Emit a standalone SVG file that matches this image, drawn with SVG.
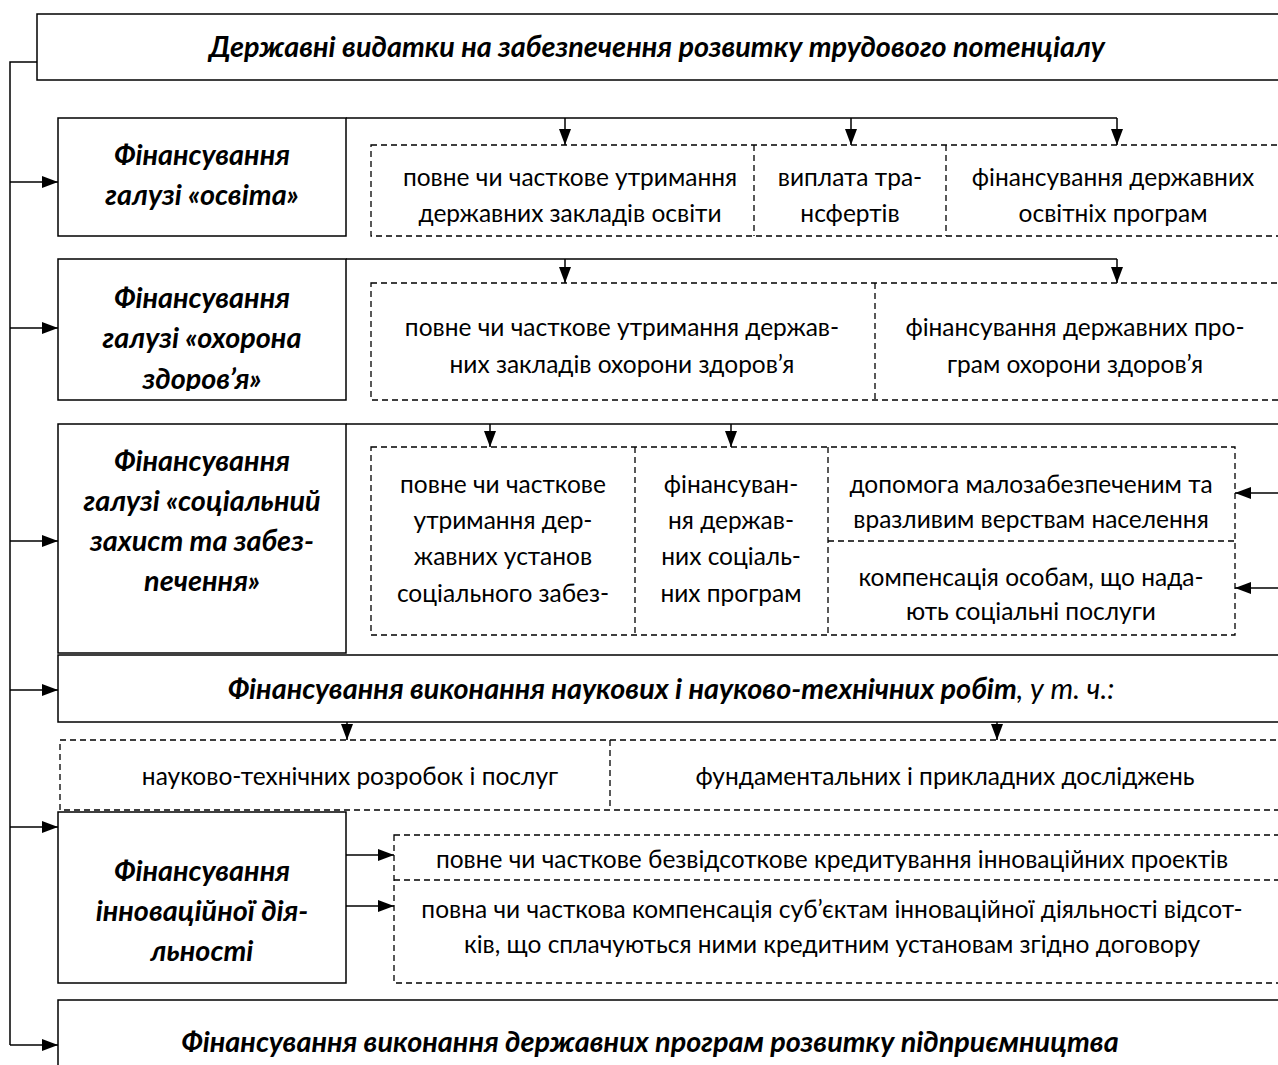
<svg xmlns="http://www.w3.org/2000/svg" width="1278" height="1065" viewBox="0 0 1278 1065">
<style>
.box{fill:#fff;stroke:#000;stroke-width:1.5}
.dbox{fill:#fff;stroke:#000;stroke-width:1.3;stroke-dasharray:6 4}
.dl{fill:none;stroke:#000;stroke-width:1.3;stroke-dasharray:6 4}
.c{fill:none;stroke:#000;stroke-width:1.5}
.h{font-family:"Lato","Open Sans",sans-serif;font-size:28.8px;font-weight:bold;font-style:italic;text-anchor:middle;fill:#000}
.t{font-family:"Lato","Open Sans",sans-serif;font-size:24.5px;text-anchor:middle;fill:#000}
</style>
<defs>
<marker id="ar" markerWidth="16" markerHeight="12" refX="16" refY="6" orient="auto" markerUnits="userSpaceOnUse">
<path d="M0,0 L16,6 L0,12 z" fill="#000"/>
</marker>
<clipPath id="clip2"><rect x="58" y="259" width="288" height="132"/></clipPath>
<clipPath id="clip3"><rect x="828" y="447" width="407" height="85"/></clipPath>
<clipPath id="clip4"><rect x="828" y="541" width="407" height="84"/></clipPath>
</defs>
<rect width="1278" height="1065" fill="#fff"/>

<g id="title">
<rect class="box" x="37" y="14" width="1260" height="66"/>
<text class="h" x="657" y="57">Державні видатки на забезпечення розвитку трудового потенціалу</text>
</g>

<g id="n-osvita">
<rect class="box" x="58" y="118" width="288" height="118"/>
<text class="h" x="202" y="165">Фінансування</text>
<text class="h" x="202" y="205">галузі «освіта»</text>
</g>
<g id="n-osvita-items">
<rect class="dbox" x="371" y="145" width="950" height="91"/>
<line class="dl" x1="754" y1="145" x2="754" y2="236"/>
<line class="dl" x1="946" y1="145" x2="946" y2="236"/>
<text class="t" x="570" y="186">повне чи часткове утримання</text>
<text class="t" x="570" y="222">державних закладів освіти</text>
<text class="t" x="850" y="186">виплата тра-</text>
<text class="t" x="850" y="222">нсфертів</text>
<text class="t" x="1113" y="186">фінансування державних</text>
<text class="t" x="1113" y="222">освітніх програм</text>
</g>

<g id="n-ohorona">
<rect class="box" x="58" y="259" width="288" height="141"/>
<text class="h" x="202" y="308">Фінансування</text>
<text class="h" x="202" y="348">галузі «охорона</text>
<text class="h" x="202" y="389" clip-path="url(#clip2)">здоров’я»</text>
</g>
<g id="n-ohorona-items">
<rect class="dbox" x="371" y="283" width="950" height="117"/>
<line class="dl" x1="875" y1="283" x2="875" y2="400"/>
<text class="t" x="622" y="336">повне чи часткове утримання держав-</text>
<text class="t" x="622" y="373">них закладів охорони здоров’я</text>
<text class="t" x="1075" y="336">фінансування державних про-</text>
<text class="t" x="1075" y="373">грам охорони здоров’я</text>
</g>

<g id="n-social">
<rect class="box" x="58" y="424" width="288" height="229"/>
<text class="h" x="202" y="471">Фінансування</text>
<text class="h" x="202" y="511">галузі «соціальний</text>
<text class="h" x="202" y="551">захист та забез-</text>
<text class="h" x="202" y="591">печення»</text>
</g>
<g id="n-social-items">
<rect class="dbox" x="371" y="447" width="864" height="188"/>
<line class="dl" x1="635" y1="447" x2="635" y2="635"/>
<line class="dl" x1="828" y1="447" x2="828" y2="635"/>
<line class="dl" x1="828" y1="541" x2="1235" y2="541"/>
<text class="t" x="503" y="493">повне чи часткове</text>
<text class="t" x="503" y="529">утримання дер-</text>
<text class="t" x="503" y="565">жавних установ</text>
<text class="t" x="503" y="602">соціального забез-</text>
<text class="t" x="731" y="493">фінансуван-</text>
<text class="t" x="731" y="529">ня держав-</text>
<text class="t" x="731" y="565">них соціаль-</text>
<text class="t" x="731" y="602">них програм</text>
<text class="t" x="1031" y="493">допомога малозабезпеченим та</text>
<text class="t" x="1031" y="528" clip-path="url(#clip3)">вразливим верствам населення</text>
<text class="t" x="1031" y="586">компенсація особам, що нада-</text>
<text class="t" x="1031" y="620" clip-path="url(#clip4)">ють соціальні послуги</text>
</g>

<g id="n-nauka">
<rect class="box" x="58" y="655" width="1240" height="67"/>
<text class="h" x="671" y="699">Фінансування виконання наукових і науково-технічних робіт<tspan font-weight="normal">, у т. ч.:</tspan></text>
</g>
<g id="n-nauka-items">
<rect class="dbox" x="60" y="740" width="1240" height="70"/>
<line class="dl" x1="610" y1="740" x2="610" y2="810"/>
<text class="t" x="350" y="785">науково-технічних розробок і послуг</text>
<text class="t" x="945" y="785">фундаментальних і прикладних досліджень</text>
</g>

<g id="n-innov">
<rect class="box" x="58" y="812" width="288" height="171"/>
<text class="h" x="202" y="881">Фінансування</text>
<text class="h" x="202" y="921">інноваційної дія-</text>
<text class="h" x="202" y="961">льності</text>
</g>
<g id="n-innov-items">
<rect class="dbox" x="394" y="835" width="900" height="148"/>
<line class="dl" x1="394" y1="880" x2="1294" y2="880"/>
<text class="t" x="832" y="868">повне чи часткове безвідсоткове кредитування інноваційних проектів</text>
<text class="t" x="832" y="918">повна чи часткова компенсація суб’єктам інноваційної діяльності відсот-</text>
<text class="t" x="832" y="953">ків, що сплачуються ними кредитним установам згідно договору</text>
</g>

<g id="n-pidpr">
<rect class="box" x="58" y="1000" width="1240" height="80"/>
<text class="h" x="650" y="1052">Фінансування виконання державних програм розвитку підприємництва</text>
</g>

<g id="connectors">
<path class="c" d="M37,62 H10 V1045"/>
<path class="c" d="M10,182 H58" marker-end="url(#ar)"/>
<path class="c" d="M10,328 H58" marker-end="url(#ar)"/>
<path class="c" d="M10,541 H58" marker-end="url(#ar)"/>
<path class="c" d="M10,690 H58" marker-end="url(#ar)"/>
<path class="c" d="M10,827 H58" marker-end="url(#ar)"/>
<path class="c" d="M10,1045 H58" marker-end="url(#ar)"/>
<path class="c" d="M346,118 H1117"/>
<path class="c" d="M565,118 V145" marker-end="url(#ar)"/>
<path class="c" d="M851,118 V145" marker-end="url(#ar)"/>
<path class="c" d="M1117,118 V145" marker-end="url(#ar)"/>
<path class="c" d="M346,259 H1117"/>
<path class="c" d="M565,259 V283" marker-end="url(#ar)"/>
<path class="c" d="M1117,259 V283" marker-end="url(#ar)"/>
<path class="c" d="M346,424 H1290"/>
<path class="c" d="M490,424 V447" marker-end="url(#ar)"/>
<path class="c" d="M731,424 V447" marker-end="url(#ar)"/>
<path class="c" d="M1290,493 H1235" marker-end="url(#ar)"/>
<path class="c" d="M1290,588 H1235" marker-end="url(#ar)"/>
<path class="c" d="M347,722 V740" marker-end="url(#ar)"/>
<path class="c" d="M997,722 V740" marker-end="url(#ar)"/>
<path class="c" d="M346,855 H394" marker-end="url(#ar)"/>
<path class="c" d="M346,906 H394" marker-end="url(#ar)"/>
</g>
</svg>
